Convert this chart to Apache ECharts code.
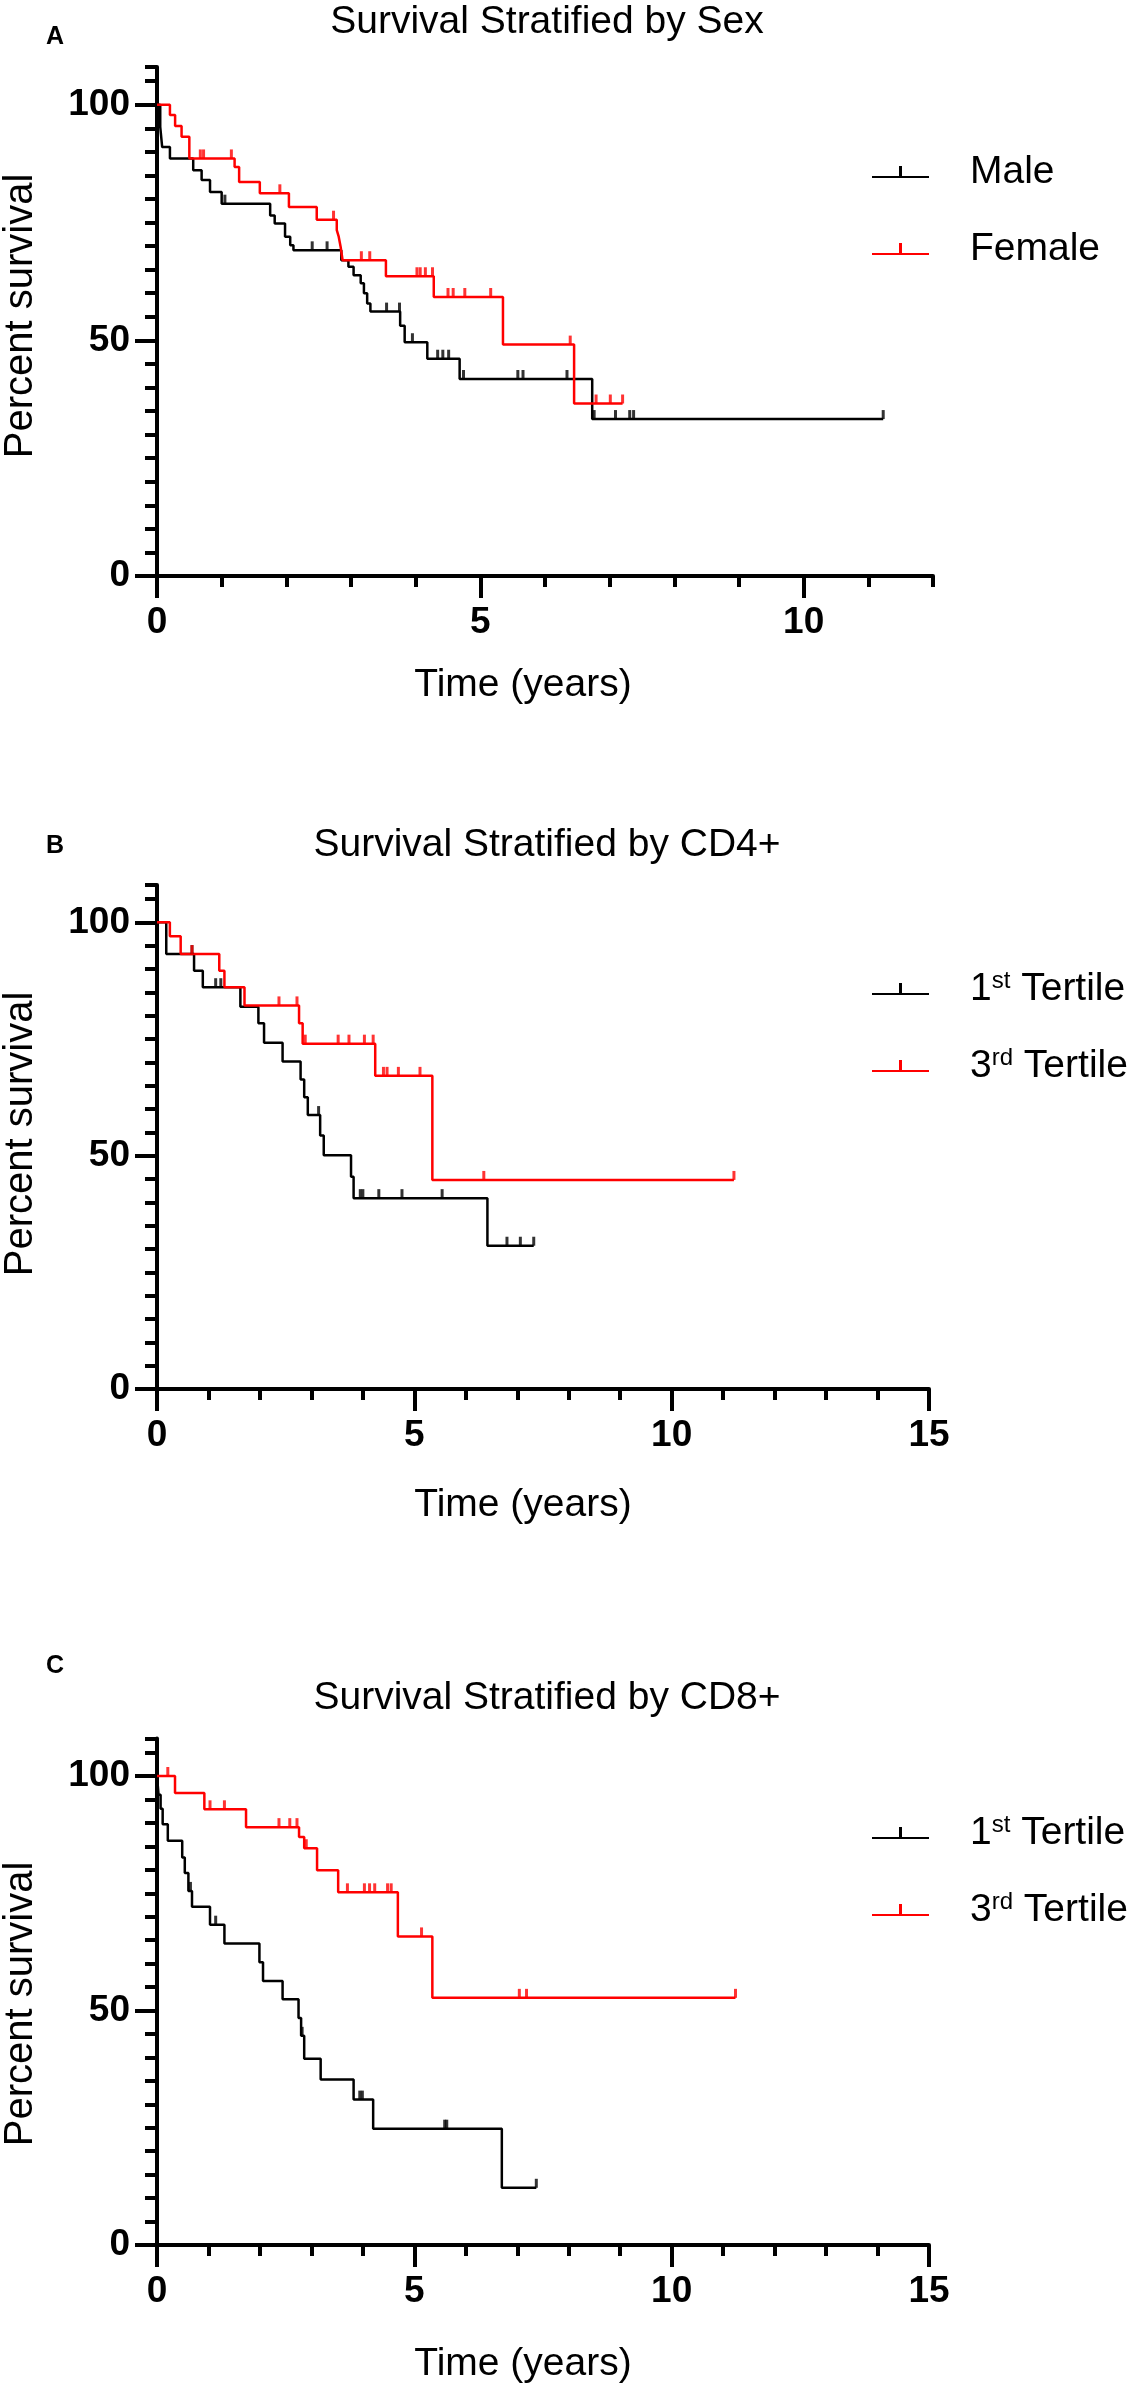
<!DOCTYPE html>
<html><head><meta charset="utf-8">
<script src="https://cdn.jsdelivr.net/npm/echarts@6/dist/echarts.min.js"></script>
<style>html,body{margin:0;padding:0;background:#fff}#c{width:1136px;height:2387px}</style>
</head><body><div id="c"></div>
<script>
// ---- Data (time in years, percent survival after each event) ----
const sexMaleTimes = [0, 0.05, 0.08, 0.2, 0.56, 0.69, 0.82, 1.0, 1.75, 1.82, 1.98, 2.06, 2.11, 2.85, 2.96, 3.04, 3.15, 3.2, 3.25, 3.3, 3.76, 3.83, 4.18, 4.68, 6.73];
const sexMaleSurv  = [100, 95.3, 91, 88.6, 86.1, 84, 81.5, 79, 76.5, 74.8, 72, 70.2, 69.1, 67, 65.6, 63.8, 62.1, 60, 57.8, 56.1, 53.1, 49.6, 46.1, 41.8, 33.3];
const sexMaleCensor = [1.05, 2.4, 2.63, 3.55, 3.75, 3.95, 4.34, 4.42, 4.51, 4.74, 5.58, 5.66, 6.34, 6.76, 7.09, 7.31, 7.37, 11.23];

const sexFemaleTimes = [0, 0.2, 0.28, 0.38, 0.5, 1.2, 1.27, 1.59, 2.04, 2.47, 2.78, 2.81, 2.84, 2.87, 3.54, 4.28, 5.35, 6.45];
const sexFemaleSurv  = [100, 97.8, 95.5, 93.2, 88.6, 86.8, 83.6, 81.2, 78.3, 75.6, 73.4, 72, 69.8, 67, 63.6, 59.2, 49.1, 36.6];
const sexFemaleCensor = [0.67, 0.72, 1.15, 1.9, 2.73, 3.16, 3.29, 4.02, 4.07, 4.15, 4.26, 4.5, 4.58, 4.76, 5.16, 6.39, 6.79, 7.01, 7.2];

const cd4LowTimes = [0, 0.18, 0.72, 0.89, 1.62, 1.97, 2.08, 2.44, 2.79, 2.86, 2.93, 3.17, 3.24, 3.77, 3.82, 6.42];
const cd4LowSurv  = [100, 93.2, 89.6, 86.1, 81.9, 78.4, 74.2, 70.2, 66.3, 62.5, 58.7, 54.3, 50.1, 45.5, 40.9, 30.7];
const cd4LowCensor = [0.68, 1.14, 1.24, 3.14, 3.95, 4.0, 4.31, 4.76, 5.54, 6.8, 7.06, 7.32];

const cd4HighTimes = [0, 0.25, 0.46, 1.21, 1.31, 1.7, 2.76, 2.83, 4.24, 5.35];
const cd4HighSurv  = [100, 97, 93.2, 89.6, 86.1, 82.2, 78.4, 74, 67.1, 44.8];
const cd4HighCensor = [0.68, 2.37, 2.72, 2.88, 3.52, 3.73, 4.03, 4.2, 4.4, 4.47, 4.69, 5.11, 6.35, 11.21];

const cd8LowTimes = [0, 0.03, 0.07, 0.11, 0.21, 0.49, 0.54, 0.61, 0.68, 1.03, 1.31, 1.99, 2.06, 2.44, 2.75, 2.8, 2.86, 3.18, 3.82, 4.2, 6.7];
const cd8LowSurv  = [100, 96, 93, 89.7, 86.2, 82.6, 79.3, 75.5, 72.1, 68.3, 64.3, 60.3, 56.3, 52.4, 48.4, 44.6, 39.7, 35.3, 31, 24.8, 12.2];
const cd8LowCensor = [0.65, 1.14, 2.82, 3.94, 3.99, 5.59, 5.63, 7.37];

const cd8HighTimes = [0, 0.35, 0.92, 1.73, 2.76, 2.86, 3.11, 3.52, 4.68, 5.35];
const cd8HighSurv  = [100, 96.4, 92.9, 89.1, 87, 84.6, 79.9, 75.2, 65.8, 52.7];
const cd8HighCensor = [0.21, 1.03, 1.31, 2.37, 2.58, 2.72, 2.9, 3.7, 4.03, 4.13, 4.23, 4.48, 4.55, 5.14, 7.04, 7.18, 11.24];

const panelTitles = ['Survival Stratified by Sex', 'Survival Stratified by CD4+', 'Survival Stratified by CD8+'];
const panelLetters = ['A', 'B', 'C'];
const legendNames = [['Male', 'Female'], ['1st Tertile', '3rd Tertile'], ['1st Tertile', '3rd Tertile']];
const xMaxes = [12, 15, 15];
const yMax = 108;
const xLabelStep = 5;
const yLabelStep = 50;
const yAxisTitle = 'Percent survival';
const xAxisTitle = 'Time (years)';

// ---- Layout ----
const FONT = '"Liberation Sans", Arial, sans-serif';
const grids = [
  {left: 157, top: 67, width: 776, height: 509},
  {left: 157, top: 885, width: 772, height: 504},
  {left: 157, top: 1738.5, width: 772, height: 506.5}
];
const titleY = [22, 845, 1698];
const letterY = [37, 846, 1666];
const yTitleY = [316, 1134, 2004];
const xTitleY = [685, 1505, 2364];
const legendTop = [147, 964, 1808];

function survAt(times, surv, t) {
  let s = surv[0];
  for (let i = 0; i < times.length; i++) { if (times[i] <= t) s = surv[i]; }
  return s;
}
function stepData(times, surv, censor) {
  const d = times.map((t, i) => [t, surv[i]]);
  const last = Math.max.apply(null, censor);
  if (last > times[times.length - 1]) d.push([last, surv[surv.length - 1]]);
  return d;
}
function censorData(times, surv, censor) {
  return censor.map(t => [t, survAt(times, surv, t)]);
}

const groups = [
  [[sexMaleTimes, sexMaleSurv, sexMaleCensor], [sexFemaleTimes, sexFemaleSurv, sexFemaleCensor]],
  [[cd4LowTimes, cd4LowSurv, cd4LowCensor], [cd4HighTimes, cd4HighSurv, cd4HighCensor]],
  [[cd8LowTimes, cd8LowSurv, cd8LowCensor], [cd8HighTimes, cd8HighSurv, cd8HighCensor]]
];
const colors = ['#000000', '#ff0000'];

const xAxis = [], yAxis = [], series = [], legend = [], graphic = [];
const labelStyle = {fontFamily: FONT, fontWeight: 'bold', fontSize: 37, color: '#000'};

grids.forEach((g, p) => {
  xAxis.push({
    type: 'value', gridIndex: p, min: 0, max: xMaxes[p], interval: xLabelStep, position: 'bottom',
    axisLine: {show: true, onZero: false, lineStyle: {color: '#000', width: 4}},
    axisTick: {show: true, length: 22, lineStyle: {color: '#000', width: 4}},
    axisLabel: {show: true, margin: 28, ...labelStyle, showMaxLabel: xMaxes[p] % xLabelStep === 0},
    splitLine: {show: false}
  });
  xAxis.push({
    type: 'value', gridIndex: p, min: 0, max: xMaxes[p], interval: 1, position: 'bottom',
    axisLine: {show: false, onZero: false},
    axisTick: {show: true, length: 11, lineStyle: {color: '#000', width: 4}},
    axisLabel: {show: false}, splitLine: {show: false}
  });
  yAxis.push({
    type: 'value', gridIndex: p, min: 0, max: yMax, interval: yLabelStep, position: 'left',
    axisLine: {show: true, onZero: false, lineStyle: {color: '#000', width: 4}},
    axisTick: {show: true, length: 22, lineStyle: {color: '#000', width: 4}},
    axisLabel: {show: true, margin: 27, ...labelStyle, showMaxLabel: false},
    splitLine: {show: false}
  });
  yAxis.push({
    type: 'value', gridIndex: p, min: 0, max: yMax, interval: 5, position: 'left',
    axisLine: {show: false, onZero: false},
    axisTick: {show: true, length: 12, lineStyle: {color: '#000', width: 4}},
    axisLabel: {show: false}, splitLine: {show: false}
  });

  groups[p].forEach((grp, k) => {
    const [times, surv, censor] = grp;
    series.push({
      name: legendNames[p][k], type: 'line', step: 'end',
      xAxisIndex: 2 * p, yAxisIndex: 2 * p,
      data: stepData(times, surv, censor),
      showSymbol: false, symbol: 'none',
      color: colors[k],
      lineStyle: {color: colors[k], width: 2.5},
      itemStyle: {color: colors[k]},
      z: 3, silent: true, animation: false
    });
    series.push({
      name: legendNames[p][k] + ' censored', type: 'scatter',
      xAxisIndex: 2 * p, yAxisIndex: 2 * p,
      data: censorData(times, surv, censor),
      symbol: 'rect', symbolSize: [3, 9], symbolOffset: [0, -4.5],
      itemStyle: {color: colors[k]},
      z: 4, silent: true, animation: false
    });
  });

  legend.push({
    orient: 'vertical', left: 867, top: legendTop[p],
    itemWidth: 57, itemHeight: 12, itemGap: 37,
    icon: 'path://M0,10H57V12H0Z M27,0H30V10H27Z',
    data: legendNames[p].map((n, k) => ({name: n, itemStyle: {color: colors[k], borderWidth: 0}})),
    selectedMode: false,
    formatter: function (name) {
      const m = name.match(/^(\d)(st|nd|rd|th)(.*)$/);
      if (m) return '{n|' + m[1] + '}{s|' + m[2] + '}{n|' + m[3] + '}';
      return '{n|' + name + '}';
    },
    textStyle: {
      fontFamily: FONT, fontSize: 39, color: '#000', padding: [0, 0, 0, 36], lineHeight: 40,
      rich: {
        n: {fontFamily: FONT, fontSize: 39, color: '#000', lineHeight: 40},
        s: {fontFamily: FONT, fontSize: 24, color: '#000', lineHeight: 24, verticalAlign: 'top'}
      }
    }
  });

  graphic.push({
    type: 'text', x: 547, y: titleY[p], silent: true,
    style: {text: panelTitles[p], font: '39px ' + FONT, fill: '#000', align: 'center', verticalAlign: 'middle', textAlign: 'center', textVerticalAlign: 'middle'}
  });
  graphic.push({
    type: 'text', x: 55, y: letterY[p], silent: true,
    style: {text: panelLetters[p], font: 'bold 25px ' + FONT, fill: '#000', align: 'center', verticalAlign: 'middle', textAlign: 'center', textVerticalAlign: 'middle'}
  });
  graphic.push({
    type: 'text', x: 21, y: yTitleY[p], rotation: Math.PI / 2, silent: true,
    style: {text: yAxisTitle, font: '40px ' + FONT, fill: '#000', align: 'center', verticalAlign: 'middle', textAlign: 'center', textVerticalAlign: 'middle'}
  });
  graphic.push({
    type: 'text', x: 523, y: xTitleY[p], silent: true,
    style: {text: xAxisTitle, font: '39px ' + FONT, fill: '#000', align: 'center', verticalAlign: 'middle', textAlign: 'center', textVerticalAlign: 'middle'}
  });
});

const chart = echarts.init(document.getElementById('c'), null, {renderer: 'canvas'});
chart.setOption({
  backgroundColor: '#ffffff',
  animation: false,
  grid: grids,
  xAxis: xAxis,
  yAxis: yAxis,
  legend: legend,
  series: series,
  graphic: graphic
});
</script>
</body></html>
